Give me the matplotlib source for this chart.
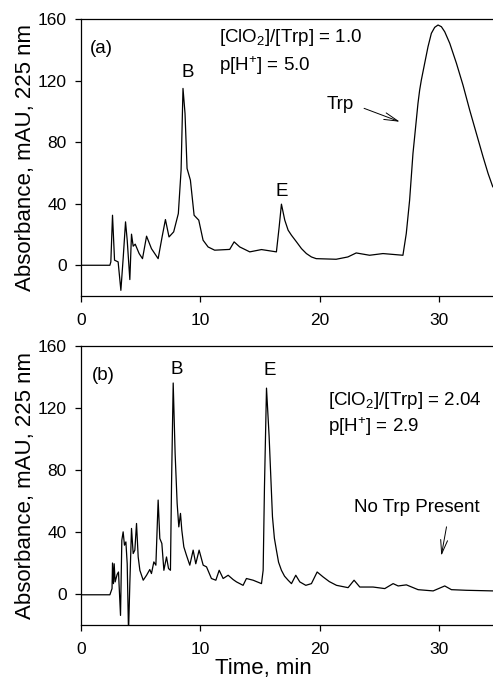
import matplotlib
matplotlib.use('Agg')
import matplotlib.pyplot as plt

plt.rcParams['font.family'] = ['Liberation Sans', 'DejaVu Sans']
plt.rcParams['mathtext.fontset'] = 'custom'
plt.rcParams['mathtext.rm'] = 'Liberation Sans'
plt.rcParams['mathtext.it'] = 'Liberation Sans'

# (a) [ClO2]/[Trp] = 1.0, p[H+] = 5.0
time_a = [0.0, 2.43, 2.51, 2.65, 2.82, 3.12, 3.35, 3.55, 3.74, 3.88, 4.10, 4.24, 4.38, 4.55,
          4.88, 5.16, 5.50, 5.91, 6.47, 6.80, 7.08, 7.38, 7.77, 8.16, 8.39, 8.55, 8.72, 8.89,
          9.17, 9.48, 9.87, 10.23, 10.65, 11.2, 12.46, 12.83, 13.3, 14.14, 15.12, 16.37, 16.6,
          16.79, 17.07, 17.35, 17.63, 18.05, 18.47, 18.88, 19.3, 19.7, 21.37, 22.35, 23.05,
          24.17, 25.29, 26.96, 27.24, 27.38, 27.52, 27.66, 27.8, 27.94, 28.08, 28.22, 28.36,
          28.5, 28.78, 29.06, 29.34, 29.62, 29.9, 30.18, 30.46, 30.88, 31.44, 31.99, 32.55,
          33.11, 33.67, 34.09, 34.48]
abs_a = [0.0, 0.0, 2.2, 32.5, 3.3, 2.2, -16.3, 5.4, 28.2, 16.3, -9.3, 20.2, 12.4, 13.7,
         7.6, 4.3, 18.9, 10.8, 4.3, 18.4, 29.7, 18.4, 21.7, 33.6, 61.8, 114.9, 98.6, 62.9,
         55.3, 32.5, 29.3, 16.3, 11.9, 9.8, 10.3, 15.2, 11.9, 8.7, 10.2, 8.7, 24.9,
         39.7, 29.3, 22.8, 19.5, 15.2, 10.8, 7.6, 5.4, 4.3, 3.9, 5.4, 8.0,
         6.5, 7.6, 6.5, 20.6, 31.4, 42.3, 57.4, 72.6, 83.4, 94.3, 105.2, 113.8,
         120.3, 131.2, 142.0, 150.7, 154.6, 156.1, 155.0, 151.7, 144.2, 131.2, 117.0, 100.8,
         85.6, 70.4, 59.6, 51.0]

# (b) [ClO2]/[Trp] = 2.04, p[H+] = 2.9
time_b = [0.0, 2.43, 2.61, 2.65, 2.73, 2.79, 2.87, 3.04, 3.15, 3.32, 3.43, 3.54, 3.65, 3.77,
          3.88, 3.99, 4.10, 4.24, 4.38, 4.52, 4.66, 4.80, 4.94, 5.22, 5.50, 5.77, 5.91, 6.11,
          6.28, 6.47, 6.61, 6.78, 6.95, 7.17, 7.34, 7.50, 7.59, 7.73, 7.89, 8.06, 8.20, 8.34,
          8.45, 8.62, 8.84, 9.12, 9.40, 9.62, 9.90, 10.24, 10.52, 10.93, 11.3, 11.58, 11.91,
          12.33, 12.75, 13.03, 13.58, 13.86, 14.42, 15.12, 15.26, 15.37, 15.54, 15.76, 16.04,
          16.2, 16.37, 16.55, 16.79, 17.05, 17.35, 17.63, 17.99, 18.33, 18.83, 19.3, 19.78,
          20.28, 20.8, 21.4, 22.37, 22.87, 23.35, 24.46, 25.44, 26.14, 26.56, 27.25, 28.23,
          29.49, 30.46, 31.02, 32.27, 34.5]
abs_b = [-0.5, -0.5, 3.5, 20.0, 6.7, 19.5, 7.8, 12.7, 14.2, -13.8, 34.7, 40.1, 31.5, 33.6,
         19.5, -25.0, 6.7, 42.3, 26.1, 28.3, 45.5, 23.9, 15.3, 8.9, 12.1, 15.8, 13.2, 20.7,
         18.6, 60.6, 35.8, 32.6, 15.3, 23.9, 16.4, 15.3, 70.3, 136.1, 90.8, 58.5, 43.3, 52.0,
         41.2, 30.4, 25.0, 18.6, 28.3, 19.5, 28.3, 18.6, 17.5, 10.0, 8.9, 15.3, 10.0,
         12.1, 9.3, 7.8, 5.6, 10.0, 8.9, 6.7, 15.3, 69.2, 132.8, 101.6, 49.8,
         36.0, 28.3, 20.5, 15.3, 11.5, 8.9, 6.7, 12.1, 7.8, 5.6, 6.7, 14.2,
         11.0, 8.0, 5.6, 4.1, 8.9, 4.5, 4.5, 3.5, 6.7, 5.2, 5.9, 2.8,
         2.0, 5.2, 2.8, 2.4, 2.0]

yticks = [0, 40, 80, 120, 160]
xticks = [0, 10, 20, 30]

fig = plt.figure(figsize=(4.93, 6.79), dpi=100)
ax1 = fig.add_axes([0.164, 0.564, 0.836, 0.408])
ax2 = fig.add_axes([0.164, 0.0795, 0.836, 0.411])

for ax, t, a in [(ax1, time_a, abs_a), (ax2, time_b, abs_b)]:
    ax.plot(t, a, color='black', lw=0.9)
    ax.set_xlim(0, 34.5)
    ax.set_ylim(-20, 160)
    ax.set_xticks(xticks)
    ax.set_yticks(yticks)
    ax.spines['right'].set_visible(False)
    for s in ['top', 'left', 'bottom']:
        ax.spines[s].set_linewidth(0.9)
    ax.tick_params(direction='out', length=4, width=0.9, labelsize=12.5)
    ax.tick_params(axis='x', pad=8)
    ax.tick_params(axis='y', pad=6)
    ax.set_ylabel('Absorbance, mAU, 225 nm', fontsize=16)
    ax.yaxis.set_label_coords(-0.11, 0.5)

ax2.set_xlabel('Time, min', fontsize=16)
ax2.xaxis.set_label_coords(0.444, -0.118)

fs = 13.5
arrow = dict(arrowstyle='->,head_length=1.0,head_width=0.25', lw=0.7, color='black')

# panel (a) text
ax1.text(0.75, 137.7, '(a)', fontsize=fs, va='baseline')
ax1.text(8.93, 122.5, 'B', fontsize=fs, ha='center', va='baseline')
ax1.text(16.8, 45.1, 'E', fontsize=fs, ha='center', va='baseline')
ax1.text(11.55, 145.2, r'[ClO$_2$]/[Trp] = 1.0', fontsize=fs, va='baseline')
ax1.text(11.55, 126.4, r'p[H$^{+}$] = 5.0', fontsize=fs, va='baseline')
ax1.text(20.56, 101.3, 'Trp', fontsize=fs, va='baseline')
ax1.annotate('', xy=(26.92, 92.6), xytext=(23.49, 102.6), arrowprops=arrow)

# panel (b) text
ax2.text(0.9, 138.2, '(b)', fontsize=fs, va='baseline')
ax2.text(8.0, 141.9, 'B', fontsize=fs, ha='center', va='baseline')
ax2.text(15.8, 141.4, 'E', fontsize=fs, ha='center', va='baseline')
ax2.text(20.7, 122.0, r'[ClO$_2$]/[Trp] = 2.04', fontsize=fs, va='baseline')
ax2.text(20.7, 104.8, r'p[H$^{+}$] = 2.9', fontsize=fs, va='baseline')
ax2.text(22.87, 53.0, 'No Trp Present', fontsize=fs, va='baseline')
ax2.annotate('', xy=(30.13, 22.9), xytext=(30.65, 45.1), arrowprops=arrow)

plt.savefig('out.png', dpi=100)
